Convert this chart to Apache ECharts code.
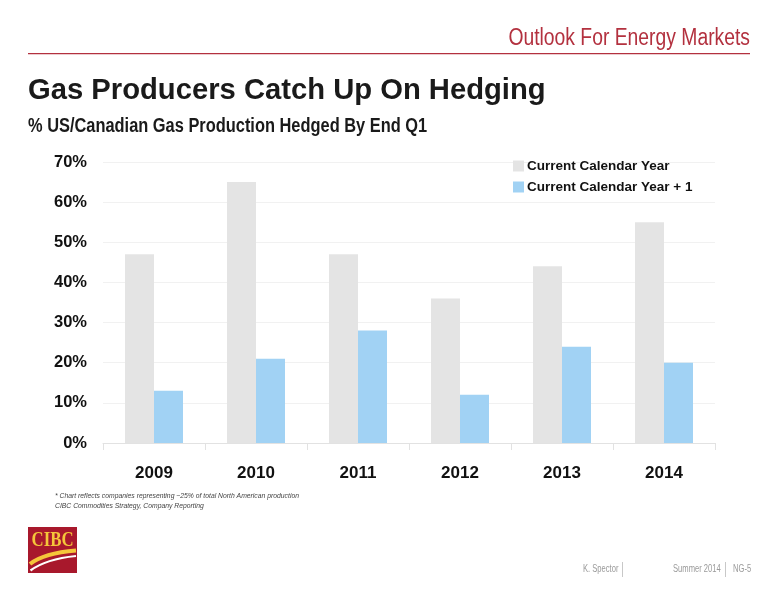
<!DOCTYPE html>
<html>
<head>
<meta charset="utf-8">
<title>Gas Producers Catch Up On Hedging</title>
<script src="https://cdn.jsdelivr.net/npm/echarts@6/dist/echarts.min.js"></script>
<style>
  html, body { margin: 0; padding: 0; background: #fff; }
  #chart { width: 776px; height: 600px; }
</style>
</head>
<body>
<div id="chart"></div>
<script>
// values (percent hedged)
const years = ['2009', '2010', '2011', '2012', '2013', '2014']
const currentYear = [47, 65, 47, 36, 44, 55]
const nextYear = [13, 21, 28, 12, 24, 20]
const seriesNames = ['Current Calendar Year', 'Current Calendar Year + 1']

const SANS = "'Liberation Sans', Arial, sans-serif"
const SERIF = "'Liberation Serif', 'DejaVu Serif', serif"

// no narrow font installed, so squeeze text horizontally
function slideText(x, y, text, font, fill, sx, align) {
  return {
    type: 'text',
    x: x,
    y: y,
    scaleX: sx,
    style: { text: text, font: font, fill: fill, align: align || 'left', verticalAlign: 'middle' },
  }
}

const myChart = echarts.init(document.getElementById('chart'))

const option = {
  backgroundColor: '#fff',
  animation: false,
  grid: {
    left: 103,
    right: 61,
    top: 162,
    bottom: 157,
  },
  legend: {
    orient: 'vertical',
    left: 513,
    top: 159,
    padding: 0,
    icon: 'rect',
    itemWidth: 11,
    itemHeight: 11,
    itemGap: 7,
    textStyle: {
      fontFamily: SANS,
      fontWeight: 'bold',
      fontSize: 13.5,
      color: '#111',
      padding: [0, 0, 0, -2],
    },
    data: seriesNames,
  },
  xAxis: {
    type: 'category',
    data: years,
    axisLine: { lineStyle: { color: '#e2e2e2', width: 1 } },
    axisTick: { show: true, length: 7, lineStyle: { color: '#e2e2e2' } },
    axisLabel: {
      margin: 22,
      fontFamily: SANS,
      fontWeight: 'bold',
      fontSize: 17,
      color: '#111',
    },
  },
  yAxis: {
    type: 'value',
    min: 0,
    max: 70,
    interval: 10,
    axisLine: { show: false },
    axisTick: { show: false },
    splitLine: { lineStyle: { color: '#f1f1f1', width: 1 } },
    axisLabel: {
      margin: 16,
      formatter: '{value}%',
      fontFamily: SANS,
      fontWeight: 'bold',
      fontSize: 16.5,
      color: '#111',
    },
  },
  series: [
    {
      name: seriesNames[0],
      type: 'bar',
      data: currentYear,
      barWidth: 29,
      barGap: '0%',
      itemStyle: { color: '#e4e4e4' },
    },
    {
      name: seriesNames[1],
      type: 'bar',
      data: nextYear,
      barWidth: 29,
      itemStyle: { color: '#a1d2f4' },
    },
  ],
  graphic: [
    // header
    slideText(750, 39, 'Outlook For Energy Markets', '23px ' + SANS, '#b3313f', 0.84, 'right'),
    {
      type: 'rect',
      shape: { x: 28, y: 53, width: 722, height: 1.2 },
      style: { fill: '#b3313f' },
    },
    slideText(28, 91, 'Gas Producers Catch Up On Hedging', 'bold 29.5px ' + SANS, '#1a1a1a', 0.99),
    slideText(28, 126.5, '% US/Canadian Gas Production Hedged By End Q1', 'bold 20px ' + SANS, '#1a1a1a', 0.82),
    // notes
    slideText(55, 495.5, '* Chart reflects companies representing ~25% of total North American production', 'italic 8px ' + SANS, '#444', 0.85),
    slideText(55, 505.5, 'CIBC Commodities Strategy, Company Reporting', 'italic 8px ' + SANS, '#444', 0.85),
    // logo
    {
      type: 'rect',
      shape: { x: 28, y: 527, width: 49, height: 46 },
      style: { fill: '#a8182c' },
    },
    slideText(31.5, 541, 'CIBC', 'bold 21px ' + SERIF, '#f5c63a', 0.8),
    {
      type: 'bezierCurve',
      shape: { x1: 30, y1: 564, cpx1: 44, cpy1: 553, x2: 76, y2: 550.5 },
      style: { stroke: '#f5c63a', lineWidth: 4, fill: null },
    },
    {
      type: 'bezierCurve',
      shape: { x1: 30.5, y1: 570.5, cpx1: 46, cpy1: 559, x2: 76, y2: 556 },
      style: { stroke: '#ffffff', lineWidth: 2.2, fill: null },
    },
    // footer
    slideText(583, 569, 'K. Spector', '10px ' + SANS, '#9a9a9a', 0.76),
    {
      type: 'line',
      shape: { x1: 622.5, y1: 562, x2: 622.5, y2: 577 },
      style: { stroke: '#c8c8c8', lineWidth: 1 },
    },
    slideText(673, 569, 'Summer 2014', '10px ' + SANS, '#9a9a9a', 0.76),
    {
      type: 'line',
      shape: { x1: 725.5, y1: 562, x2: 725.5, y2: 577 },
      style: { stroke: '#c8c8c8', lineWidth: 1 },
    },
    slideText(733, 569, 'NG-5', '10px ' + SANS, '#9a9a9a', 0.76),
  ],
}

myChart.setOption(option)
</script>
</body>
</html>
